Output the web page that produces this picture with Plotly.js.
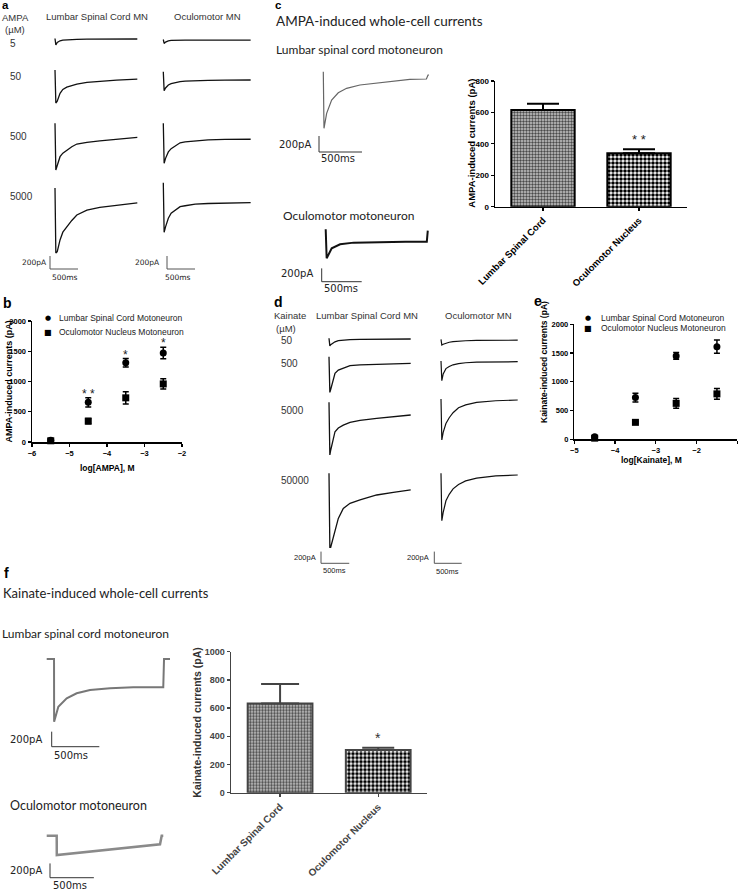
<!DOCTYPE html>
<html><head><meta charset="utf-8">
<script src="https://cdn.plot.ly/plotly-3.0.1.min.js"></script>
<style>html,body{margin:0;padding:0;background:#fff;}#chart{width:741px;height:891px;}</style>
</head><body><div id="chart"></div>
<script>
// ---------- DATA ----------
// Panel a: AMPA-evoked traces (time in ms, current in pA)
const aTimeLumbar = [0, 15, 40, 90, 140, 210, 300, 390, 570, 800, 1100, 1470];
const aTimeOculo  = [0, 15, 40, 90, 140, 210, 300, 390, 570, 800, 1100, 1560];
const aLumbar5    = [0, -100, -60, -35, -25, -20, -15, -12, -10, -10, -10, -8];
const aLumbar50   = [0, -508, -480, -360, -300, -265, -240, -218, -192, -172, -157, -139];
const aLumbar500  = [0, -720, -650, -514, -460, -411, -360, -319, -293, -272, -242, -216];
const aLumbar5000 = [0, -1000, -980, -800, -680, -600, -500, -415, -340, -297, -262, -230];
const aOculo5     = [0, -60, -40, -20, -15, -12, -10, -10, -10, -10, -10, -10];
const aOculo50    = [0, -292, -250, -205, -185, -168, -154, -146, -139, -134, -131, -128];
const aOculo500   = [0, -616, -540, -440, -390, -350, -300, -285, -268, -255, -248, -246];
const aOculo5000  = [0, -764, -680, -548, -470, -420, -370, -355, -330, -320, -314, -308];
const aConcLabels = ['5', '50', '500', '5000'];

// Panel b: AMPA dose-response
const bLogConc    = [-5.5, -4.5, -3.5, -2.5];
const bLumbarMean = [30, 655, 1310, 1470];
const bLumbarSEM  = [25, 75, 70, 95];
const bOculoMean  = [20, 345, 730, 960];
const bOculoSEM   = [20, 45, 100, 85];
const bStars      = ['* *', '*', '*'];
const bStarConc   = [-4.5, -3.5, -2.5];

// Panel c: AMPA whole-cell currents
const cTimeLumbar = [0, 8, 39, 97, 174, 271, 426, 619, 812, 1006, 1199, 1218, 1230];
const cLumbar     = [0, -708, -520, -354, -263, -208, -166, -145, -116, -95, -91, -41, -41];
const cTimeOculo  = [0, 12, 75, 180, 350, 700, 1000, 1264, 1276];
const cOculo      = [0, -435, -285, -225, -200, -190, -186, -186, -20];
const barCategories = ['Lumbar Spinal Cord', 'Oculomotor Nucleus'];
const cBarMean    = [615, 340];
const cBarSEM     = [40, 25];

// Panel d: kainate-evoked traces
const dTimeLumbar = [0, 15, 30, 106, 165, 253, 372, 549, 844, 1139, 1446];
const dLumbar50    = [0, -130, -110, -60, -40, -30, -22, -18, -15, -13, -12];
const dLumbar500   = [0, -610, -560, -284, -230, -195, -154, -140, -128, -118, -113];
const dLumbar5000  = [0, -900, -820, -503, -440, -390, -342, -310, -275, -246, -217];
const dLumbar50000 = [0, -1265, -1265, -999, -771, -600, -513, -456, -371, -325, -285];
const dTimeOculo  = [0, 15, 40, 90, 150, 220, 320, 450, 650, 1000, 1400];
const dOculo50     = [0, -97, -85, -65, -50, -40, -30, -25, -20, -17, -15];
const dOculo500    = [0, -337, -220, -130, -95, -65, -45, -30, -20, -15, -12];
const dOculo5000   = [0, -700, -570, -420, -320, -235, -150, -100, -57, -30, -17];
const dOculo50000  = [0, -810, -670, -470, -360, -265, -190, -130, -82, -45, -29];
const dConcLabels = ['50', '500', '5000', '50000'];

// Panel e: kainate dose-response
const eLogConc    = [-4.5, -3.5, -2.5, -1.5];
const eLumbarMean = [45, 725, 1450, 1610];
const eLumbarSEM  = [15, 75, 60, 115];
const eOculoMean  = [20, 295, 625, 790];
const eOculoSEM   = [15, 15, 85, 95];

// Panel f: kainate whole-cell currents
const fTimeLumbar = [0, 77, 78, 122, 210, 315, 455, 665, 909, 1224, 1232, 1295];
const fLumbar     = [0, 0, -834, -634, -523, -456, -412, -390, -377, -377, 0, 0];
const fTimeOculo  = [0, 114, 115, 300, 608, 1000, 1292, 1311, 1329];
const fOculo      = [0, 0, -270, -245, -205, -160, -120, 0, 0];
const fBarMean    = [633, 303];
const fBarSEM     = [138, 16];

// scale bar: 500 ms horizontal, 200 pA vertical
const scaleBarMs = [0, 0, 500];
const scaleBarPA = [200, 0, 0];

// ---------- BUILD ----------
const W = 741, H = 891;
const PX = x => x / W, PY = y => 1 - y / H;
const data = [], annotations = [];
const SANS = 'Liberation Sans, Arial, sans-serif';
const HUM = 'Lato, Open Sans, sans-serif';
const layout = {
  width: W, height: H, margin: {l: 0, r: 0, t: 0, b: 0}, barmode: 'overlay',
  paper_bgcolor: '#fff', plot_bgcolor: 'rgba(0,0,0,0)', showlegend: false,
  font: {family: SANS, color: '#000'}, annotations: annotations
};
let axCount = 0;
function addAxes(box, xr, yr, xo, yo) {
  axCount++;
  const s = axCount === 1 ? '' : String(axCount);
  layout['xaxis' + s] = Object.assign({domain: [PX(box.l), PX(box.r)], range: xr, anchor: 'y' + s,
    visible: false, fixedrange: true, showgrid: false, zeroline: false}, xo || {});
  layout['yaxis' + s] = Object.assign({domain: [PY(box.b), PY(box.t)], range: yr, anchor: 'x' + s,
    visible: false, fixedrange: true, showgrid: false, zeroline: false}, yo || {});
  return {xaxis: 'x' + s, yaxis: 'y' + s};
}
function ephys(T, I, t0, base, msPx, pAPx, color, lw) {
  const tmax = T[T.length - 1], imin = Math.min(...I), imax = Math.max(...I);
  const pad = 4;
  const ax = addAxes({l: t0 - pad, r: t0 + tmax / msPx + pad, t: base - imax / pAPx - pad, b: base - imin / pAPx + pad},
    [-pad * msPx, tmax + pad * msPx], [imin - pad * pAPx, imax + pad * pAPx]);
  data.push(Object.assign({type: 'scatter', mode: 'lines', x: T, y: I, line: {color: color, width: lw},
    hoverinfo: 'skip', showlegend: false}, ax));
}
function scaleBar(cx, cy, msPx, pAPx, color, lw) {
  const pad = 2;
  const ax = addAxes({l: cx - pad, r: cx + 500 / msPx + pad, t: cy - 200 / pAPx - pad, b: cy + pad},
    [-pad * msPx, 500 + pad * msPx], [-pad * pAPx, 200 + pad * pAPx]);
  data.push(Object.assign({type: 'scatter', mode: 'lines', x: scaleBarMs, y: scaleBarPA,
    line: {color: color, width: lw}, hoverinfo: 'skip', showlegend: false}, ax));
}
function txt(text, x, y, o) {
  annotations.push(Object.assign({text: text, x: PX(x), y: PY(y), xref: 'paper', yref: 'paper', showarrow: false,
    xanchor: 'left', yanchor: 'middle', borderpad: 0, font: {family: SANS, size: 10, color: '#222'}}, o || {}));
}
function panelLetter(l, x, y, anchor, size) {
  txt(l, x, y, {yanchor: anchor || 'middle', font: {family: SANS, size: size || 14, color: '#000', weight: 'bold'}});
}
function axTitle(text, x, y, size, color, vertical) {
  txt(text, x, y, {xanchor: 'center', textangle: vertical ? -90 : 0,
    font: {family: SANS, size: size, weight: 'bold', color: color}});
}
function axStyle(color, tickSize) {
  return {visible: true, showline: true, linecolor: color, linewidth: 1.5, ticks: 'outside', ticklen: 3,
    tickwidth: 1.2, tickcolor: color, showgrid: false, zeroline: false, automargin: false,
    tickfont: {family: SANS, size: tickSize, weight: 'bold', color: color}};
}

// ---- Panel a ----
panelLetter('a', 1, -1.5, 'top', 11.5);
const lab9 = {family: SANS, size: 9.5, color: '#333'};
txt('AMPA', 1, 17, {font: lab9});
txt('(µM)', 4, 29.5, {font: lab9});
const aBaseL = [38.5, 70, 123.3, 188], aBaseO = [39.5, 71.7, 123.3, 182.7];
const aLabY = [43, 77, 137, 196], aLabX = [9, 9, 9, 9];
aConcLabels.forEach((c, i) => txt(c, aLabX[i], aLabY[i], {font: {family: SANS, size: 10, color: '#333'}}));
txt('Lumbar Spinal Cord MN', 96.7, 16, {xanchor: 'center', font: lab9});
txt('Oculomotor MN', 207, 16, {xanchor: 'center', font: lab9});
[aLumbar5, aLumbar50, aLumbar500, aLumbar5000].forEach((I, i) => ephys(aTimeLumbar, I, 55, aBaseL[i], 17.86, 15.4, '#111', 1.3));
[aOculo5, aOculo50, aOculo500, aOculo5000].forEach((I, i) => ephys(aTimeOculo, I, 163.3, aBaseO[i], 17.86, 15.4, '#111', 1.3));
scaleBar(50, 269, 17.86, 15.4, '#555', 1);
scaleBar(167, 269, 17.86, 15.4, '#555', 1);
const sbA = {family: 'DejaVu Sans, sans-serif', size: 7.5, color: '#222'};
txt('200pA', 48, 262, {xanchor: 'right', font: sbA});
txt('500ms', 51, 277, {font: sbA});
txt('200pA', 161, 262, {xanchor: 'right', font: sbA});
txt('500ms', 164, 277, {font: sbA});

// ---- Panel b ----
panelLetter('b', 2, 303);
const bAx = addAxes({l: 32, r: 182, t: 321, b: 442}, [-6, -2], [0, 2000],
  Object.assign(axStyle('#000', 7.5), {tickvals: [-6, -5, -4, -3, -2]}),
  Object.assign(axStyle('#000', 7.5), {tickvals: [0, 500, 1000, 1500, 2000]}));
axTitle('log[AMPA], M', 107, 468, 8.5, '#000', false);
axTitle('AMPA-induced currents (pA)', 8, 381.5, 9, '#000', true);
data.push(Object.assign({type: 'scatter', mode: 'markers', x: bLogConc, y: bLumbarMean, cliponaxis: false,
  marker: {symbol: 'circle', size: 7, color: '#000'},
  error_y: {type: 'data', array: bLumbarSEM, color: '#000', thickness: 1.5, width: 3}, hoverinfo: 'skip'}, bAx));
data.push(Object.assign({type: 'scatter', mode: 'markers', x: bLogConc, y: bOculoMean, cliponaxis: false,
  marker: {symbol: 'square', size: 7, color: '#000'},
  error_y: {type: 'data', array: bOculoSEM, color: '#000', thickness: 1.5, width: 3}, hoverinfo: 'skip'}, bAx));
bStars.forEach((s, i) => {
  const k = bLogConc.indexOf(bStarConc[i]);
  const top = Math.max(bLumbarMean[k] + bLumbarSEM[k], bOculoMean[k] + bOculoSEM[k]);
  annotations.push({text: s, x: bStarConc[i], y: top, xref: bAx.xaxis, yref: bAx.yaxis, showarrow: false,
    xanchor: 'center', yanchor: 'bottom', yshift: -5, font: {family: SANS, size: 12, color: '#222'}});
});
const legB = {family: SANS, size: 8.5, color: '#222'};
txt('●', 48, 318.3, {xanchor: 'center', font: {family: 'DejaVu Sans', size: 7, color: '#000'}});
txt('Lumbar Spinal Cord Motoneuron', 58, 318.3, {font: legB});
txt('■', 48, 332, {xanchor: 'center', font: {family: 'DejaVu Sans', size: 8, color: '#000'}});
txt('Oculomotor Nucleus Motoneuron', 58, 332, {font: legB});

// ---- Panel c ----
panelLetter('c', 274, -1.5, 'top', 11.5);
txt('AMPA-induced whole-cell currents', 275, 21, {font: {family: HUM, size: 13.5, color: '#222'}});
txt('Lumbar spinal cord motoneuron', 275, 50, {font: {family: HUM, size: 12, color: '#222'}});
txt('Oculomotor motoneuron', 282, 215, {font: {family: HUM, size: 12, color: '#222'}});
ephys(cTimeLumbar, cLumbar, 323.3, 71.7, 11.63, 12.5, '#666', 1.2);
ephys(cTimeOculo, cOculo, 325.7, 229.3, 12.5, 15, '#111', 2);
scaleBar(319, 152, 11.63, 12.5, '#333', 1);
scaleBar(321.7, 281.7, 12.5, 15, '#333', 1);
const sbC = {family: 'DejaVu Sans, sans-serif', size: 10, color: '#222'};
txt('200pA', 312, 144, {xanchor: 'right', font: sbC});
txt('500ms', 320, 159, {font: sbC});
txt('200pA', 314, 274, {xanchor: 'right', font: sbC});
txt('500ms', 323, 289, {font: sbC});
// bar fill patterns: fine grey checker for lumbar, coarse black/white checker for oculomotor
const barPatterns = [
  {shape: '.', size: 3, solidity: 0.5, fgcolor: '#4a4a4a', bgcolor: '#c8c8c8', fillmode: 'replace'},
  {shape: '.', size: 4, solidity: 0.62, fgcolor: '#000', bgcolor: '#fff', fillmode: 'replace'}
];
function barChart(box, yr, ytick, mean, sem, color, tickSize, xtSize, capW) {
  const ax = addAxes(box, [-0.5, 1.5], yr,
    Object.assign(axStyle(color, xtSize), {type: 'category', tickangle: -45, categoryarray: barCategories, categoryorder: 'array'}),
    Object.assign(axStyle(color, tickSize), {dtick: ytick}));
  barCategories.forEach((cat, i) => {
    data.push(Object.assign({type: 'bar', x: [cat], y: [mean[i]], width: 0.66, hoverinfo: 'skip',
      marker: {color: barPatterns[i].bgcolor, line: {color: color, width: 2}, pattern: barPatterns[i]},
      error_y: {type: 'data', symmetric: false, array: [sem[i]], arrayminus: [0], color: color, thickness: 2, width: capW[i]}}, ax));
  });
  return ax;
}
const cAx = barChart({l: 495, r: 687, t: 81, b: 206.7}, [0, 800], 200, cBarMean, cBarSEM, '#000', 8, 9.5, [16, 16]);
axTitle('AMPA-induced currents (pA)', 470.7, 143, 9.5, '#000', true);
annotations.push({text: '* *', x: barCategories[1], y: cBarMean[1] + cBarSEM[1], xref: cAx.xaxis, yref: cAx.yaxis,
  showarrow: false, xanchor: 'center', yanchor: 'bottom', yshift: 0, font: {family: SANS, size: 13, color: '#222'}});

// ---- Panel d ----
panelLetter('d', 273, 302);
txt('Kainate', 273, 316, {font: lab9});
txt('(µM)', 275, 328, {font: lab9});
const dLabY = [340.5, 364, 410, 480];
dConcLabels.forEach((c, i) => txt(c, 280, dLabY[i], {font: {family: SANS, size: 10, color: '#333'}}));
txt('Lumbar Spinal Cord MN', 367, 316, {xanchor: 'center', font: lab9});
txt('Oculomotor MN', 478.5, 316, {xanchor: 'center', font: lab9});
const dBaseL = [338.3, 356.7, 402.3, 473.3], dBaseO = [339.3, 361, 399, 473.3];
[dLumbar50, dLumbar500, dLumbar5000, dLumbar50000].forEach((I, i) => ephys(dTimeLumbar, I, 329, dBaseL[i], 17.7, 17.1, '#111', 1.3));
[dOculo50, dOculo500, dOculo5000, dOculo50000].forEach((I, i) => ephys(dTimeOculo, I, 441, dBaseO[i], 18.25, 17.1, '#111', 1.2));
scaleBar(321, 563.3, 17.7, 17.1, '#555', 1);
scaleBar(434.3, 563.3, 18.25, 17.1, '#555', 1);
const sbD = {family: SANS, size: 7.5, color: '#222'};
txt('200pA', 317, 557, {xanchor: 'right', font: sbD});
txt('500ms', 322, 570, {font: sbD});
txt('200pA', 430, 557, {xanchor: 'right', font: sbD});
txt('500ms', 435, 571, {font: sbD});

// ---- Panel e ----
panelLetter('e', 533, 301);
const eAx = addAxes({l: 574.3, r: 737.3, t: 324.3, b: 439.3}, [-5, -1], [0, 2000],
  Object.assign(axStyle('#000', 7.5), {tickvals: [-5, -4, -3, -2, -1]}),
  Object.assign(axStyle('#000', 7.5), {tickvals: [0, 500, 1000, 1500, 2000]}));
axTitle('log[Kainate], M', 651.7, 460, 8.5, '#000', false);
axTitle('Kainate-induced currents (pA)', 543.3, 361.7, 8.5, '#000', true);
data.push(Object.assign({type: 'scatter', mode: 'markers', x: eLogConc, y: eLumbarMean, cliponaxis: false,
  marker: {symbol: 'circle', size: 7, color: '#000'},
  error_y: {type: 'data', array: eLumbarSEM, color: '#000', thickness: 1.5, width: 3}, hoverinfo: 'skip'}, eAx));
data.push(Object.assign({type: 'scatter', mode: 'markers', x: eLogConc, y: eOculoMean, cliponaxis: false,
  marker: {symbol: 'square', size: 7, color: '#000'},
  error_y: {type: 'data', array: eOculoSEM, color: '#000', thickness: 1.5, width: 3}, hoverinfo: 'skip'}, eAx));
txt('●', 588.3, 318.3, {xanchor: 'center', font: {family: 'DejaVu Sans', size: 7, color: '#000'}});
txt('Lumbar Spinal Cord Motoneuron', 600, 318.3, {font: legB});
txt('■', 588.3, 328.3, {xanchor: 'center', font: {family: 'DejaVu Sans', size: 8, color: '#000'}});
txt('Oculomotor Nucleus Motoneuron', 600, 328.3, {font: legB});

// ---- Panel f ----
panelLetter('f', 3, 573);
txt('Kainate-induced whole-cell currents', 2, 593, {font: {family: HUM, size: 13, color: '#222'}});
txt('Lumbar spinal cord motoneuron', 1, 633, {font: {family: HUM, size: 12, color: '#222'}});
txt('Oculomotor motoneuron', 9, 805, {font: {family: HUM, size: 12.5, color: '#222'}});
ephys(fTimeLumbar, fLumbar, 46.7, 659, 10.5, 13.3, '#777', 2);
ephys(fTimeOculo, fOculo, 46.7, 835.7, 11.4, 14, '#8a8a8a', 2.5);
scaleBar(51.7, 746.7, 10.5, 13.3, '#333', 1);
scaleBar(50, 877.7, 11.4, 14, '#333', 1);
txt('200pA', 43, 739, {xanchor: 'right', font: sbC});
txt('500ms', 53, 755, {font: sbC});
txt('200pA', 43, 870, {xanchor: 'right', font: sbC});
txt('500ms', 52, 885, {font: sbC});
const fAx = barChart({l: 231, r: 427.3, t: 651.7, b: 792.7}, [0, 1000], 200, fBarMean, fBarSEM, '#444', 9, 10, [19, 16]);
axTitle('Kainate-induced currents (pA)', 196.7, 722, 10.5, '#333', true);
annotations.push({text: '*', x: barCategories[1], y: fBarMean[1] + fBarSEM[1], xref: fAx.xaxis, yref: fAx.yaxis,
  showarrow: false, xanchor: 'center', yanchor: 'bottom', yshift: 0, font: {family: SANS, size: 14, color: '#333'}});

Plotly.newPlot('chart', data, layout, {staticPlot: true, displayModeBar: false});
</script></body></html>
